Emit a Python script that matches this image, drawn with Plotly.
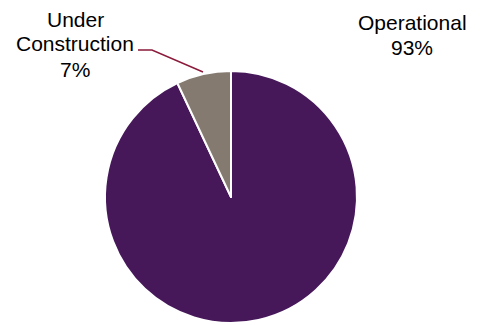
import plotly.graph_objects as go

labels = ["Operational", "Under Construction"]
values = [93, 7]
colors = ["#46185A", "#857A6F"]

W, H = 483, 325
OX, OY = 8, 8  # page body margin offset

def px(x):
    return (x - OX) / W

def py(y):
    return 1 - (y - OY) / H

cx, cy, r = 231, 197, 126
fig = go.Figure(go.Pie(
    labels=labels, values=values, sort=False, direction="clockwise", rotation=0,
    marker=dict(colors=colors, line=dict(color="white", width=2)),
    textinfo="none", hoverinfo="label+percent", showlegend=False,
    domain=dict(x=[px(cx - r), px(cx + r)], y=[py(cy + r), py(cy - r)]),
))

font = dict(family="Liberation Sans, Arial", size=21, color="#000000")
left_lines = ["Under", "Construction", f"{values[1]}%"]
left_y = [19, 44, 69]
for t, y in zip(left_lines, left_y):
    fig.add_annotation(x=px(75), y=py(y), xref="paper", yref="paper", showarrow=False,
                       text=t, font=font, xanchor="center", yanchor="middle")
right_lines = ["Operational", f"{values[0]}%"]
right_y = [22, 47]
for t, y in zip(right_lines, right_y):
    fig.add_annotation(x=px(412), y=py(y), xref="paper", yref="paper", showarrow=False,
                       text=t, font=font, xanchor="center", yanchor="middle")

fig.add_shape(type="path", xref="paper", yref="paper",
              path=f"M {px(138)} {py(50)} L {px(152)} {py(50)} L {px(203)} {py(72)}",
              line=dict(color="#8B1A3B", width=1.5))

fig.update_layout(width=W, height=H, margin=dict(l=0, r=0, t=0, b=0),
                  paper_bgcolor="white", plot_bgcolor="white")
fig.write_html("out.html")
